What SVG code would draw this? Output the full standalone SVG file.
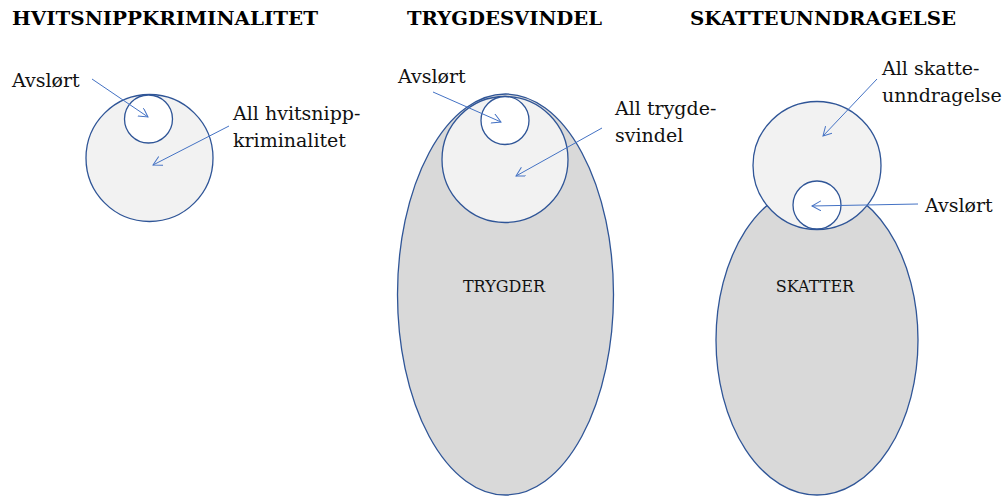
<svg xmlns="http://www.w3.org/2000/svg" width="1005" height="497" viewBox="0 0 1005 497">
  <style>
    .title { font-family: "DejaVu Serif", "Liberation Serif", serif; font-weight: bold; font-size: 18px; fill: #000; }
    .label { font-family: "DejaVu Serif", "Liberation Serif", serif; font-size: 19px; fill: #111; }
    .inner { font-family: "DejaVu Serif", "Liberation Serif", serif; font-size: 16px; fill: #111; text-anchor: middle; }
    .base { fill: #D9D9D9; stroke: #2F5597; stroke-width: 1.3; }
    .all { fill: #F2F2F2; stroke: #2F5597; stroke-width: 1.3; }
    .found { fill: #FFFFFF; stroke: #2F5597; stroke-width: 1.3; }
    .arrow { stroke: #4472C4; stroke-width: 1; fill: none; marker-end: url(#head); }
  </style>
  <defs>
    <marker id="head" markerUnits="userSpaceOnUse" markerWidth="12" markerHeight="12" refX="9" refY="5" orient="auto">
      <path d="M0,0 L9,5 L0,10" fill="none" stroke="#4472C4" stroke-width="1"/>
    </marker>
  </defs>
  <rect width="1005" height="497" fill="#FFFFFF"/>

  <!-- Titles -->
  <text class="title" x="12" y="25" textLength="306" lengthAdjust="spacingAndGlyphs">HVITSNIPPKRIMINALITET</text>
  <text class="title" x="407" y="25" textLength="195" lengthAdjust="spacingAndGlyphs">TRYGDESVINDEL</text>
  <text class="title" x="690" y="25" textLength="266" lengthAdjust="spacingAndGlyphs">SKATTEUNNDRAGELSE</text>

  <!-- Panel 1: white-collar crime -->
  <g id="hvitsnipp-all">
    <circle class="all" cx="149.5" cy="158" r="63.5"/>
  </g>
  <g id="hvitsnipp-avslort">
    <circle class="found" cx="148.5" cy="119" r="24"/>
  </g>

  <!-- Panel 2: benefit fraud -->
  <g id="trygder">
    <ellipse class="base" cx="505.5" cy="294.5" rx="108" ry="200.5"/>
    <text class="inner" x="504" y="292">TRYGDER</text>
  </g>
  <g id="trygdesvindel-all">
    <circle class="all" cx="505" cy="159.5" r="63"/>
  </g>
  <g id="trygdesvindel-avslort">
    <circle class="found" cx="505" cy="120.5" r="24"/>
  </g>

  <!-- Panel 3: tax evasion -->
  <g id="skatter">
    <ellipse class="base" cx="817" cy="340" rx="101" ry="155"/>
    <text class="inner" x="815" y="292">SKATTER</text>
  </g>
  <g id="skatteunndragelse-all">
    <circle class="all" cx="817" cy="165.5" r="64"/>
  </g>
  <g id="skatteunndragelse-avslort">
    <circle class="found" cx="817" cy="205" r="24"/>
  </g>

  <!-- Callout labels -->
  <g id="labels">
    <text class="label" x="12" y="87">Avslørt</text>
    <text class="label" x="233" y="120">All hvitsnipp-</text>
    <text class="label" x="233" y="147">kriminalitet</text>

    <text class="label" x="398" y="83">Avslørt</text>
    <text class="label" x="615" y="115">All trygde-</text>
    <text class="label" x="615" y="142">svindel</text>

    <text class="label" x="882" y="75">All skatte-</text>
    <text class="label" x="882" y="102">unndragelse</text>
    <text class="label" x="925" y="212">Avslørt</text>
  </g>

  <!-- Connectors -->
  <g id="connectors">
    <line class="arrow" x1="92" y1="79" x2="148" y2="117"/>
    <line class="arrow" x1="229" y1="126" x2="153" y2="165"/>
    <line class="arrow" x1="433" y1="92" x2="501" y2="122"/>
    <line class="arrow" x1="602" y1="128" x2="516" y2="176"/>
    <line class="arrow" x1="877" y1="79" x2="823" y2="136"/>
    <line class="arrow" x1="918" y1="204" x2="812" y2="206"/>
  </g>
</svg>
